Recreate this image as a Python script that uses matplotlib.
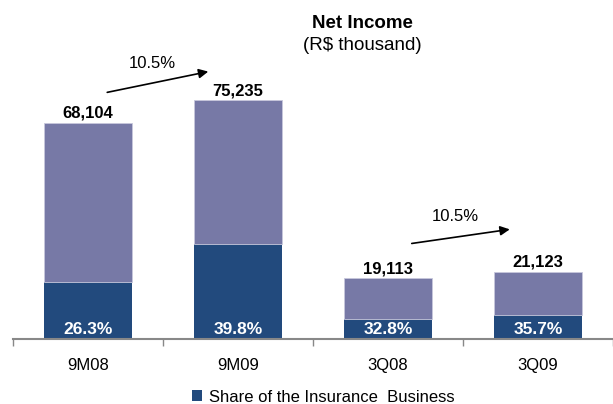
import matplotlib.pyplot as plt

plt.rcParams['font.family'] = ['Liberation Sans', 'DejaVu Sans']

# Net income, R$ thousand
periods = ['9M08', '9M09', '3Q08', '3Q09']
net_income = [68104, 75235, 19113, 21123]
insurance_share = [26.3, 39.8, 32.8, 35.7]
growth_labels = ['10.5%', '10.5%']

light = '#7779a6'
dark = '#224a7d'

insurance = [v * s / 100 for v, s in zip(net_income, insurance_share)]
other = [v - i for v, i in zip(net_income, insurance)]
x = list(range(len(periods)))

fig = plt.figure(figsize=(6.13, 4.04), dpi=100)
ax = fig.add_axes([13 / 613, 65 / 404, 600 / 613, 339 / 404])

ax.bar(x, insurance, width=0.59, color=dark, label='Share of the Insurance  Business')
ax.bar(x, other, width=0.59, bottom=insurance, color=light, edgecolor='#c8c8dc', linewidth=0.6)

for xi, v, s in zip(x, net_income, insurance_share):
    ax.text(xi, v + 1600, f'{v:,}', ha='center', va='baseline', fontsize=12, fontweight='bold')
    ax.text(xi, 2900, f'{s:.1f}%', ha='center', va='center', fontsize=12.5,
            fontweight='bold', color='white')

# growth arrows
ax.annotate('', xy=(0.82, 84500), xytext=(0.11, 77600),
            arrowprops=dict(arrowstyle='-|>', color='black', lw=1.2, mutation_scale=14))
ax.text(0.43, 86800, growth_labels[0], ha='center', va='center', fontsize=12)
ax.annotate('', xy=(2.83, 34700), xytext=(2.14, 30000),
            arrowprops=dict(arrowstyle='-|>', color='black', lw=1.2, mutation_scale=14))
ax.text(2.45, 38600, growth_labels[1], ha='center', va='center', fontsize=12)

fig.text(362 / 613, 1 - 23 / 404, 'Net Income', ha='center', va='center',
         fontsize=13.5, fontweight='bold')
fig.text(362 / 613, 1 - 46 / 404, '(R$ thousand)', ha='center', va='center', fontsize=13.5)

ax.set_xlim(-0.5, 3.46)
ax.set_ylim(0, 106900)
ax.set_xticks([i - 0.5 for i in x] + [3.5])
ax.set_xticklabels([])
ax.set_xticks(x, minor=True)
ax.set_xticklabels(periods, minor=True, fontsize=12)
ax.tick_params(axis='x', which='major', length=5, color='#888888', width=1)
ax.tick_params(axis='x', which='minor', length=0, pad=14)
ax.set_yticks([])
for side in ['top', 'right', 'left']:
    ax.spines[side].set_visible(False)
ax.spines['bottom'].set_color('#888888')
ax.spines['bottom'].set_linewidth(1.5)

fig.legend(loc='center', bbox_to_anchor=(323 / 613, 1 - 397 / 404), frameon=False,
           fontsize=12, handlelength=0.6, handleheight=0.6, handletextpad=0.4)

fig.savefig('out.png', dpi=100)
